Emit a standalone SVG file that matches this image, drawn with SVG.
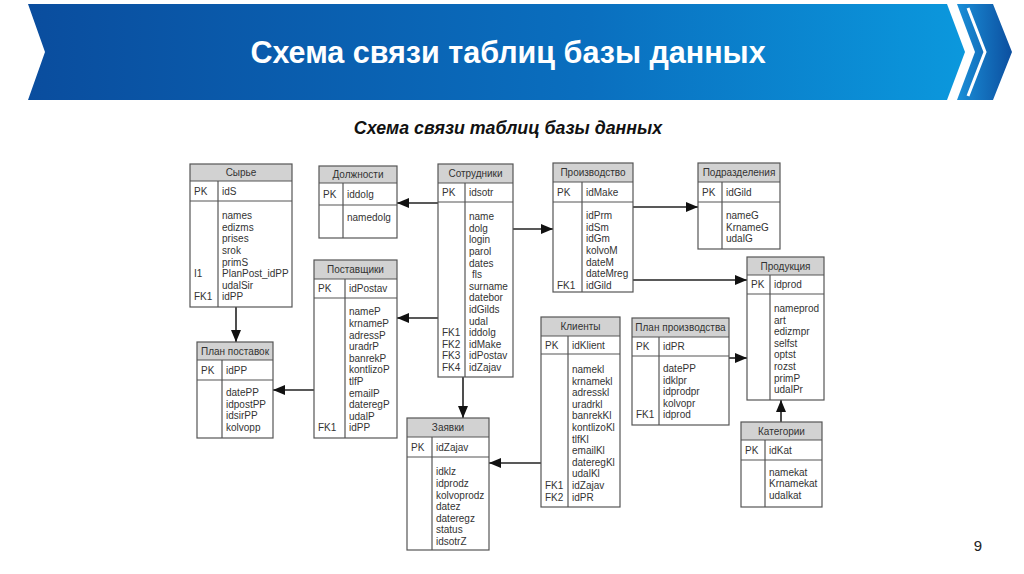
<svg xmlns="http://www.w3.org/2000/svg" width="1024" height="574" viewBox="0 0 1024 574">
<defs>
<linearGradient id="gMain" x1="0" y1="0" x2="1" y2="0">
<stop offset="0" stop-color="#0a4d9e"/>
<stop offset="0.6" stop-color="#0a6fbf"/>
<stop offset="1" stop-color="#0b98dd"/>
</linearGradient>
<linearGradient id="gTip" x1="0" y1="0" x2="1" y2="0">
<stop offset="0" stop-color="#1a8fd8"/>
<stop offset="1" stop-color="#0c4f9f"/>
</linearGradient>
<marker id="arr" markerUnits="userSpaceOnUse" markerWidth="12" markerHeight="10" refX="12" refY="5" orient="auto">
<path d="M0,0 L12,5 L0,10 Z" fill="#111"/>
</marker>
</defs>
<style>
.box{fill:none;stroke:#555;stroke-width:1.2}
.hdr{fill:#d2d2d2;stroke:none}
.sep{stroke:#555;stroke-width:1.2}
.t{font-family:"Liberation Sans",Arial,sans-serif;font-size:10px;fill:#333}
.th{text-anchor:middle}
.ln{stroke:#222;stroke-width:1.6;fill:none;marker-end:url(#arr)}
</style>
<rect width="1024" height="574" fill="#fff"/>
<g id="banner">
<polygon points="28,4 947,4 965,52 947,100 28,100 45,52" fill="url(#gMain)"/>
<polygon points="957,4 993,4 1012,52 993,100 957,100 975,52" fill="url(#gTip)"/>
<polyline points="968,8 985,52 968,96" fill="none" stroke="#fff" stroke-width="3"/>
<text x="508" y="63" text-anchor="middle" font-family="'Liberation Sans',Arial,sans-serif" font-weight="bold" font-size="30.5" fill="#fff">Схема связи таблиц базы данных</text>
</g>
<text x="508" y="134" text-anchor="middle" font-family="'Liberation Sans',Arial,sans-serif" font-weight="bold" font-style="italic" font-size="17.8" fill="#111">Схема связи таблиц базы данных</text>
<text x="978" y="551" text-anchor="middle" font-family="'Liberation Sans',Arial,sans-serif" font-size="15" fill="#222">9</text>

<g id="connectors">
<path class="ln" d="M438,203 H397"/>
<path class="ln" d="M438,318 H397"/>
<path class="ln" d="M513,229 H553"/>
<path class="ln" d="M463,377 V418"/>
<path class="ln" d="M236,307 V342"/>
<path class="ln" d="M314,390 H273"/>
<path class="ln" d="M541,463 H489"/>
<path class="ln" d="M633,207 H698"/>
<path class="ln" d="M633,280 H747"/>
<path class="ln" d="M729,358 H747"/>
<path class="ln" d="M781,422 V400"/>
</g>

<g id="syrye">
<rect class="hdr" x="190" y="164" width="102" height="17"/>
<rect class="box" x="190" y="164" width="102" height="143"/>
<line class="sep" x1="190" y1="181" x2="292" y2="181"/>
<line class="sep" x1="190" y1="201" x2="292" y2="201"/>
<line class="sep" x1="218" y1="181" x2="218" y2="307"/>
<text class="t th" x="241" y="176">Сырье</text>
<text class="t" x="194" y="194.6">PK</text>
<text class="t" x="222" y="194.6">idS</text>
<text class="t" x="222" y="219.1"><tspan x="222">names</tspan><tspan x="222" dy="11.6">edizms</tspan><tspan x="222" dy="11.6">prises</tspan><tspan x="222" dy="11.6">srok</tspan><tspan x="222" dy="11.6">primS</tspan><tspan x="222" dy="11.6">PlanPost_idPP</tspan><tspan x="222" dy="11.6">udalSir</tspan><tspan x="222" dy="11.6">idPP</tspan></text>
<text class="t" x="194" y="277.1">I1</text>
<text class="t" x="194" y="300.3">FK1</text>
</g>

<g id="dolzhnosti">
<rect class="hdr" x="319" y="166" width="78" height="17"/>
<rect class="box" x="319" y="166" width="78" height="72"/>
<line class="sep" x1="319" y1="183" x2="397" y2="183"/>
<line class="sep" x1="319" y1="205" x2="397" y2="205"/>
<line class="sep" x1="343" y1="183" x2="343" y2="238"/>
<text class="t th" x="358" y="178">Должности</text>
<text class="t" x="323" y="197.6">PK</text>
<text class="t" x="347" y="197.6">iddolg</text>
<text class="t" x="347" y="221">namedolg</text>
</g>

<g id="sotrudniki">
<rect class="hdr" x="438" y="164" width="75" height="19"/>
<rect class="box" x="438" y="164" width="75" height="213"/>
<line class="sep" x1="438" y1="183" x2="513" y2="183"/>
<line class="sep" x1="438" y1="202" x2="513" y2="202"/>
<line class="sep" x1="465" y1="183" x2="465" y2="377"/>
<text class="t th" x="475.5" y="177">Сотрудники</text>
<text class="t" x="442" y="196">PK</text>
<text class="t" x="469" y="196">idsotr</text>
<text class="t" x="469" y="220.1"><tspan x="469">name</tspan><tspan x="469" dy="11.6">dolg</tspan><tspan x="469" dy="11.6">login</tspan><tspan x="469" dy="11.6">parol</tspan><tspan x="469" dy="11.6">dates</tspan><tspan x="472" dy="11.6">fls</tspan><tspan x="469" dy="11.6">surname</tspan><tspan x="469" dy="11.6">datebor</tspan><tspan x="469" dy="11.6">idGilds</tspan><tspan x="469" dy="11.6">udal</tspan><tspan x="469" dy="11.6">iddolg</tspan><tspan x="469" dy="11.6">idMake</tspan><tspan x="469" dy="11.6">idPostav</tspan><tspan x="469" dy="11.6">idZajav</tspan></text>
<text class="t" x="442" y="336.1"><tspan x="442">FK1</tspan><tspan x="442" dy="11.6">FK2</tspan><tspan x="442" dy="11.6">FK3</tspan><tspan x="442" dy="11.6">FK4</tspan></text>
</g>

<g id="proizvodstvo">
<rect class="hdr" x="553" y="163" width="80" height="19"/>
<rect class="box" x="553" y="163" width="80" height="129"/>
<line class="sep" x1="553" y1="182" x2="633" y2="182"/>
<line class="sep" x1="553" y1="202" x2="633" y2="202"/>
<line class="sep" x1="582" y1="182" x2="582" y2="292"/>
<text class="t th" x="593" y="176">Производство</text>
<text class="t" x="557" y="195.6">PK</text>
<text class="t" x="586" y="195.6">idMake</text>
<text class="t" x="586" y="219.1"><tspan x="586">idPrm</tspan><tspan x="586" dy="11.6">idSm</tspan><tspan x="586" dy="11.6">idGm</tspan><tspan x="586" dy="11.6">kolvoM</tspan><tspan x="586" dy="11.6">dateM</tspan><tspan x="586" dy="11.6">dateMreg</tspan><tspan x="586" dy="11.6">idGild</tspan></text>
<text class="t" x="557" y="288.7">FK1</text>
</g>

<g id="podrazdeleniya">
<rect class="hdr" x="698" y="163" width="82" height="19"/>
<rect class="box" x="698" y="163" width="82" height="86"/>
<line class="sep" x1="698" y1="182" x2="780" y2="182"/>
<line class="sep" x1="698" y1="202" x2="780" y2="202"/>
<line class="sep" x1="722" y1="182" x2="722" y2="249"/>
<text class="t th" x="739" y="176">Подразделения</text>
<text class="t" x="702" y="195.6">PK</text>
<text class="t" x="726" y="195.6">idGild</text>
<text class="t" x="726" y="219.1"><tspan x="726">nameG</tspan><tspan x="726" dy="11.6">KrnameG</tspan><tspan x="726" dy="11.6">udalG</tspan></text>
</g>

<g id="postavshiki">
<rect class="hdr" x="314" y="260" width="83" height="19"/>
<rect class="box" x="314" y="260" width="83" height="178"/>
<line class="sep" x1="314" y1="279" x2="397" y2="279"/>
<line class="sep" x1="314" y1="298" x2="397" y2="298"/>
<line class="sep" x1="345" y1="279" x2="345" y2="438"/>
<text class="t th" x="355.5" y="273">Поставщики</text>
<text class="t" x="318" y="292">PK</text>
<text class="t" x="349" y="292">idPostav</text>
<text class="t" x="349" y="315.3"><tspan x="349">nameP</tspan><tspan x="349" dy="11.6">krnameP</tspan><tspan x="349" dy="11.6">adressP</tspan><tspan x="349" dy="11.6">uradrP</tspan><tspan x="349" dy="11.6">banrekP</tspan><tspan x="349" dy="11.6">kontlizoP</tspan><tspan x="349" dy="11.6">tlfP</tspan><tspan x="349" dy="11.6">emailP</tspan><tspan x="349" dy="11.6">dateregP</tspan><tspan x="349" dy="11.6">udalP</tspan><tspan x="349" dy="11.6">idPP</tspan></text>
<text class="t" x="318" y="431.3">FK1</text>
</g>

<g id="plan-postavok">
<rect class="hdr" x="197" y="342" width="76" height="18"/>
<rect class="box" x="197" y="342" width="76" height="96"/>
<line class="sep" x1="197" y1="360" x2="273" y2="360"/>
<line class="sep" x1="197" y1="380" x2="273" y2="380"/>
<line class="sep" x1="222" y1="360" x2="222" y2="438"/>
<text class="t th" x="235" y="354.6">План поставок</text>
<text class="t" x="201" y="373.6">PK</text>
<text class="t" x="226" y="373.6">idPP</text>
<text class="t" x="226" y="396"><tspan x="226">datePP</tspan><tspan x="226" dy="11.6">idpostPP</tspan><tspan x="226" dy="11.6">idsirPP</tspan><tspan x="226" dy="11.6">kolvopp</tspan></text>
</g>

<g id="zayavki">
<rect class="hdr" x="407" y="418" width="82" height="19"/>
<rect class="box" x="407" y="418" width="82" height="132"/>
<line class="sep" x1="407" y1="437" x2="489" y2="437"/>
<line class="sep" x1="407" y1="457" x2="489" y2="457"/>
<line class="sep" x1="432" y1="437" x2="432" y2="550"/>
<text class="t th" x="448" y="431">Заявки</text>
<text class="t" x="411" y="450.6">PK</text>
<text class="t" x="436" y="450.6">idZajav</text>
<text class="t" x="436" y="475.3"><tspan x="436">idklz</tspan><tspan x="436" dy="11.6">idprodz</tspan><tspan x="436" dy="11.6">kolvoprodz</tspan><tspan x="436" dy="11.6">datez</tspan><tspan x="436" dy="11.6">dateregz</tspan><tspan x="436" dy="11.6">status</tspan><tspan x="436" dy="11.6">idsotrZ</tspan></text>
</g>

<g id="klienty">
<rect class="hdr" x="541" y="317" width="79" height="19"/>
<rect class="box" x="541" y="317" width="79" height="190"/>
<line class="sep" x1="541" y1="336" x2="620" y2="336"/>
<line class="sep" x1="541" y1="354" x2="620" y2="354"/>
<line class="sep" x1="568" y1="336" x2="568" y2="507"/>
<text class="t th" x="580.5" y="330">Клиенты</text>
<text class="t" x="545" y="348.6">PK</text>
<text class="t" x="572" y="348.6">idKlient</text>
<text class="t" x="572" y="373"><tspan x="572">namekl</tspan><tspan x="572" dy="11.6">krnamekl</tspan><tspan x="572" dy="11.6">adresskl</tspan><tspan x="572" dy="11.6">uradrkl</tspan><tspan x="572" dy="11.6">banrekKl</tspan><tspan x="572" dy="11.6">kontlizoKl</tspan><tspan x="572" dy="11.6">tlfKl</tspan><tspan x="572" dy="11.6">emailKl</tspan><tspan x="572" dy="11.6">dateregKl</tspan><tspan x="572" dy="11.6">udalKl</tspan><tspan x="572" dy="11.6">idZajav</tspan><tspan x="572" dy="11.6">idPR</tspan></text>
<text class="t" x="545" y="489"><tspan x="545">FK1</tspan><tspan x="545" dy="11.6">FK2</tspan></text>
</g>

<g id="plan-proizvodstva">
<rect class="hdr" x="632" y="318" width="97" height="19"/>
<rect class="box" x="632" y="318" width="97" height="107"/>
<line class="sep" x1="632" y1="337" x2="729" y2="337"/>
<line class="sep" x1="632" y1="356" x2="729" y2="356"/>
<line class="sep" x1="659" y1="337" x2="659" y2="425"/>
<text class="t th" x="680.5" y="331">План производства</text>
<text class="t" x="636" y="350">PK</text>
<text class="t" x="663" y="350">idPR</text>
<text class="t" x="663" y="372"><tspan x="663">datePP</tspan><tspan x="663" dy="11.6">idklpr</tspan><tspan x="663" dy="11.6">idprodpr</tspan><tspan x="663" dy="11.6">kolvopr</tspan><tspan x="663" dy="11.6">idprod</tspan></text>
<text class="t" x="636" y="418.4">FK1</text>
</g>

<g id="produkciya">
<rect class="hdr" x="747" y="257" width="77" height="18"/>
<rect class="box" x="747" y="257" width="77" height="143"/>
<line class="sep" x1="747" y1="275" x2="824" y2="275"/>
<line class="sep" x1="747" y1="294" x2="824" y2="294"/>
<line class="sep" x1="770" y1="275" x2="770" y2="400"/>
<text class="t th" x="785.5" y="269.6">Продукция</text>
<text class="t" x="751" y="288">PK</text>
<text class="t" x="774" y="288">idprod</text>
<text class="t" x="774" y="312"><tspan x="774">nameprod</tspan><tspan x="774" dy="11.6">art</tspan><tspan x="774" dy="11.6">edizmpr</tspan><tspan x="774" dy="11.6">selfst</tspan><tspan x="774" dy="11.6">optst</tspan><tspan x="774" dy="11.6">rozst</tspan><tspan x="774" dy="11.6">primP</tspan><tspan x="774" dy="11.6">udalPr</tspan></text>
</g>

<g id="kategorii">
<rect class="hdr" x="741" y="422" width="81" height="18"/>
<rect class="box" x="741" y="422" width="81" height="85"/>
<line class="sep" x1="741" y1="440" x2="822" y2="440"/>
<line class="sep" x1="741" y1="460" x2="822" y2="460"/>
<line class="sep" x1="765" y1="440" x2="765" y2="507"/>
<text class="t th" x="781.5" y="434.6">Категории</text>
<text class="t" x="745" y="453.6">PK</text>
<text class="t" x="769" y="453.6">idKat</text>
<text class="t" x="769" y="475.6"><tspan x="769">namekat</tspan><tspan x="769" dy="11.6">Krnamekat</tspan><tspan x="769" dy="11.6">udalkat</tspan></text>
</g>
</svg>
